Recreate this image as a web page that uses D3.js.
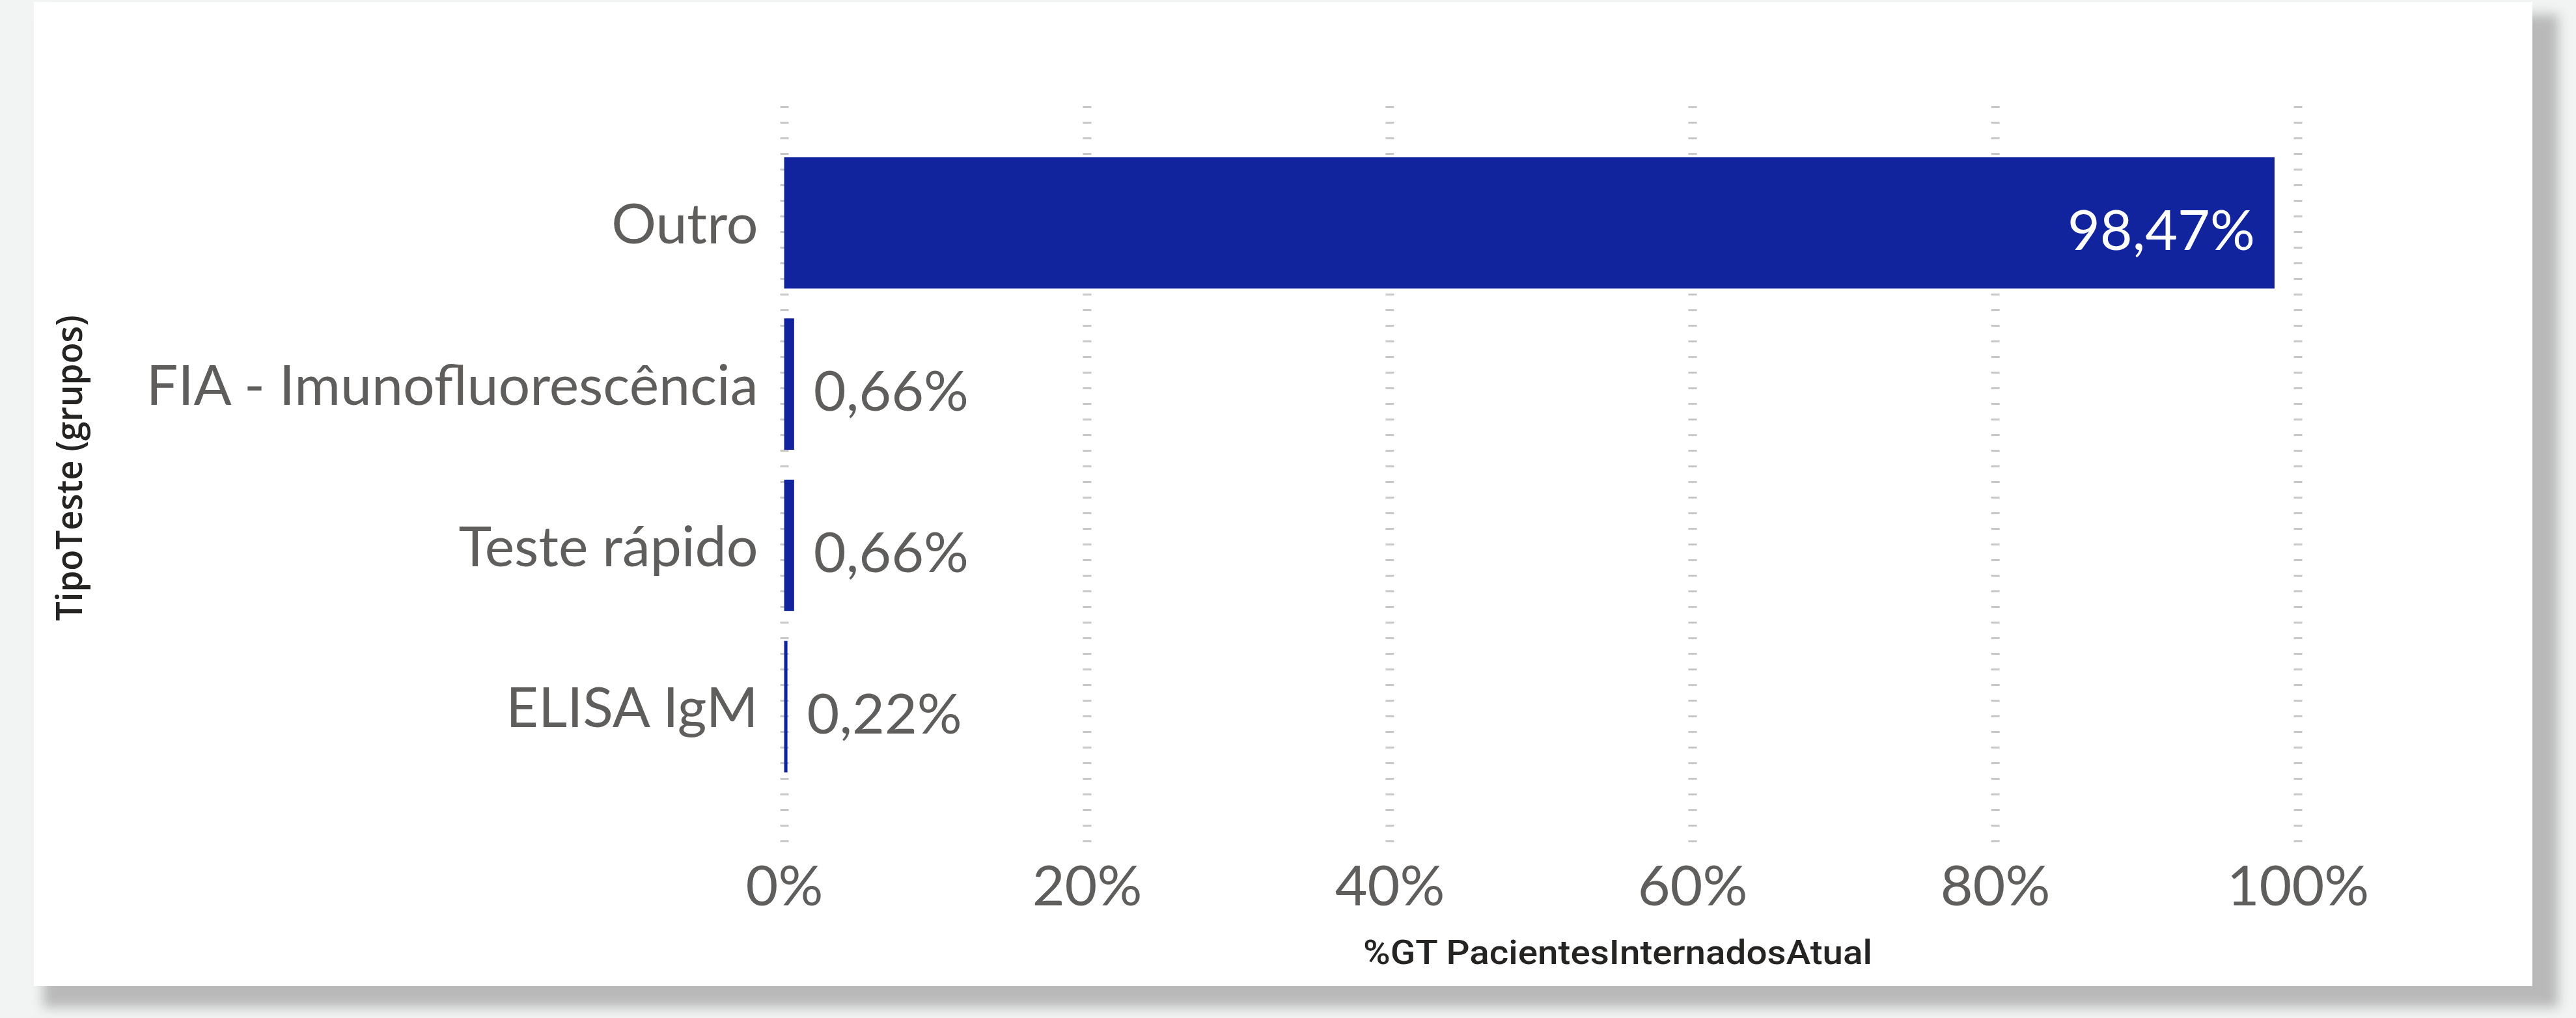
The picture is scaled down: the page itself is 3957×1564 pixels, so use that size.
<!DOCTYPE html>
<html>
<head>
<meta charset="utf-8">
<script src="https://cdn.jsdelivr.net/npm/d3@7/dist/d3.min.js"></script>
<style>
    html, body { margin: 0; padding: 0; background: #f2f4f4; }
    svg { display: block; }
</style>
</head>
<body>
<script>
// dados do visual
var categorias = ["Outro", "FIA - Imunofluorescência", "Teste rápido", "ELISA IgM"],
    valores = [0.9847, 0.0066, 0.0066, 0.0022],
    rotulos = ["98,47%", "0,66%", "0,66%", "0,22%"],
    ticksX = [0, 0.2, 0.4, 0.6, 0.8, 1.0],
    tituloX = "%GT PacientesInternadosAtual",
    tituloY = "TipoTeste (grupos)";

var W = 3957,
    H = 1564,
    card = {x: 52, y: 3, r: 3890, b: 1515},
    gridTop = 163,
    gridBottom = 1296,
    fonte = "'Segoe UI', Lato, sans-serif",
    cinza = "#605E5C",
    azul = "#12239E";

var svg = d3.select("body").append("svg")
    .attr("width", W)
    .attr("height", H);

var defs = svg.append("defs");

defs.append("filter")
    .attr("id", "sombra")
    .attr("x", "-5%").attr("y", "-5%")
    .attr("width", "110%").attr("height", "110%")
    .append("feGaussianBlur")
    .attr("stdDeviation", 9);

// sombra + cartao
svg.append("rect")
    .attr("x", 66)
    .attr("y", 22)
    .attr("width", 3930 - 66)
    .attr("height", 1548 - 22)
    .attr("fill", "#b9b9b9")
    .attr("filter", "url(#sombra)");

svg.append("rect")
    .attr("x", card.x)
    .attr("y", card.y)
    .attr("width", card.r - card.x)
    .attr("height", card.b - card.y)
    .attr("fill", "#ffffff");

var x = d3.scaleLinear()
    .domain([0, 1])
    .range([1204.5, 3529.5]);

var y = d3.scaleBand()
    .domain(categorias)
    .range([218.5, 1209.5])
    .paddingInner(0.185)
    .paddingOuter(0.0925);

// linhas de grade pontilhadas
var grade = svg.append("g")
    .attr("transform", "translate(0," + gridTop + ")")
    .call(d3.axisTop(x)
        .tickValues(ticksX)
        .tickSize(-(gridBottom - gridTop))
        .tickFormat(""));

grade.select(".domain").remove();
grade.selectAll("line")
    .attr("stroke", "#c8c8c8")
    .attr("stroke-width", 13)
    .attr("stroke-dasharray", "3 21");

// eixo x
var eixoX = svg.append("g")
    .attr("transform", "translate(0,1330)")
    .call(d3.axisBottom(x)
        .tickValues(ticksX)
        .tickSize(0)
        .tickPadding(0)
        .tickFormat(d3.format(".0%")));

eixoX.select(".domain").remove();
eixoX.selectAll("text")
    .attr("dy", "0.71em")
    .attr("fill", cinza)
    .style("font-family", fonte)
    .style("font-size", "86px");

// eixo y
var eixoY = svg.append("g")
    .attr("transform", "translate(" + x(0) + ",0)")
    .call(d3.axisLeft(y)
        .tickSize(0)
        .tickPadding(40));

eixoY.select(".domain").remove();
eixoY.selectAll("text")
    .attr("dy", "0.37em")
    .attr("fill", cinza)
    .style("font-family", fonte)
    .style("font-size", "86px");

// barras
svg.append("g")
    .selectAll("rect")
    .data(valores)
    .enter()
    .append("rect")
    .attr("x", x(0))
    .attr("y", function (d, i) { return y(categorias[i]); })
    .attr("width", function (d) { return x(d) - x(0); })
    .attr("height", y.bandwidth())
    .attr("fill", azul);

// rotulos de dados
svg.append("g")
    .selectAll("text")
    .data(valores)
    .enter()
    .append("text")
    .attr("x", function (d) { return d > 0.5 ? x(d) - 30 : x(d) + 30; })
    .attr("y", function (d, i) { return y(categorias[i]) + y.bandwidth() / 2; })
    .attr("dy", "0.48em")
    .attr("text-anchor", function (d) { return d > 0.5 ? "end" : "start"; })
    .attr("fill", function (d) { return d > 0.5 ? "#ffffff" : cinza; })
    .style("font-family", fonte)
    .style("font-size", "86px")
    .text(function (d, i) { return rotulos[i]; });

// titulos dos eixos
svg.append("text")
    .attr("x", 2485)
    .attr("y", 1481)
    .attr("text-anchor", "middle")
    .attr("fill", "#252423")
    .attr("textLength", 782)
    .attr("lengthAdjust", "spacingAndGlyphs")
    .style("font-family", "'DIN', 'Roboto', sans-serif")
    .style("font-weight", 500)
    .style("font-size", "52px")
    .text(tituloX);

svg.append("text")
    .attr("transform", "translate(126,719) rotate(-90)")
    .attr("text-anchor", "middle")
    .attr("fill", "#252423")
    .attr("textLength", 470)
    .attr("lengthAdjust", "spacingAndGlyphs")
    .style("font-family", "'Open Sans', sans-serif")
    .style("font-weight", 600)
    .style("font-size", "56px")
    .text(tituloY);
</script>
</body>
</html>
